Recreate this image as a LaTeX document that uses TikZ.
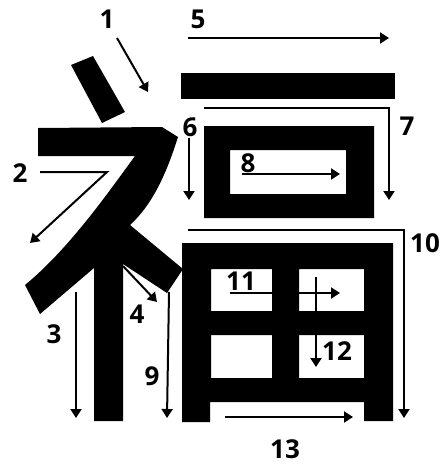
\documentclass[tikz,border=0pt]{standalone}
\usepackage{fontspec}
\setmainfont{Open Sans}
\usetikzlibrary{arrows.meta}
\begin{document}
\begin{tikzpicture}[x=1pt,y=-1pt,
  stroke/.style={fill=black,draw=none},
  arr/.style={line width=2pt,-{Triangle[length=9pt,width=11pt]}},
  plain/.style={line width=2pt},
  lab/.style={inner sep=0pt,font=\fontsize{26}{26}\selectfont\bfseries}]
\useasboundingbox (0,0) rectangle (444,467);
% strokes of the character
\fill[stroke] (71,65) -- (93,56) -- (125,112) -- (102,123) -- cycle;
\fill[stroke] (38,128) -- (162,127) -- (178,137)
  .. controls (166,175) and (152,205) .. (130,225)
  -- (183,269) -- (167,293) -- (123,264) -- (123,421) -- (94,421)
  -- (94,268) -- (40,314) -- (25,285)
  .. controls (70,248) and (110,190) .. (135,156) -- (38,156) -- cycle;
\fill[stroke] (181,73) rectangle (395,99);
\fill[stroke,even odd rule] (204,126) rectangle (374,218) (230,150) rectangle (346,194);
\fill[stroke,even odd rule] (182,243) -- (393,243) -- (393,421) -- (364,421) -- (364,402)
  -- (210,402) -- (210,422) -- (182,422) -- cycle
  (211,269) rectangle (272,311) (299,269) rectangle (364,311)
  (211,335) rectangle (272,378) (299,335) rectangle (364,378);
% arrow end points
\coordinate (a1s) at (117,38);  \coordinate (a1e) at (148,92);
\coordinate (a2s) at (40,172);  \coordinate (a2m) at (107,172); \coordinate (a2e) at (30,243);
\coordinate (a3s) at (76,292);  \coordinate (a3e) at (76,418);
\coordinate (a4s) at (123,266); \coordinate (a4e) at (157,302);
\coordinate (a5s) at (188,38);  \coordinate (a5e) at (389,38);
\coordinate (a6s) at (189,138); \coordinate (a6e) at (189,200);
\coordinate (a7s) at (204,108); \coordinate (a7m) at (389,108); \coordinate (a7e) at (389,200);
\coordinate (a8s) at (242,174); \coordinate (a8e) at (340,174);
\coordinate (a9s) at (169,292); \coordinate (a9e) at (167,418);
\coordinate (a10s) at (188,230); \coordinate (a10m) at (404,230); \coordinate (a10e) at (404,418);
\coordinate (a11s) at (230,293); \coordinate (a11e) at (340,293);
\coordinate (a12s) at (316,277); \coordinate (a12e) at (316,367);
\coordinate (a13s) at (225,417); \coordinate (a13e) at (353,417);
% arrows
\draw[arr] (a1s) -- (a1e);
\draw[arr] (a2s) -- (a2m) -- (a2e);
\draw[arr] (a3s) -- (a3e);
\draw[arr] (a4s) -- (a4e);
\draw[arr] (a5s) -- (a5e);
\draw[arr] (a6s) -- (a6e);
\draw[arr] (a7s) -- (a7m) -- (a7e);
\draw[arr] (a8s) -- (a8e);
\draw[arr] (a9s) -- (a9e);
\draw[arr] (a10s) -- (a10m) -- (a10e);
\draw[arr] (a11s) -- (a11e);
\draw[arr] (a12s) -- (a12e);
\draw[arr] (a13s) -- (a13e);
% labels
\node[lab] (l1) at (107,19) {1};
\node[lab] (l2) at (20,173) {2};
\node[lab] (l3) at (54,334) {3};
\node[lab] (l4) at (137,314) {4};
\node[lab] (l5) at (198,19) {5};
\node[lab] (l6) at (190,127) {6};
\node[lab] (l7) at (407,126) {7};
\node[lab] (l8) at (248,163) {8};
\node[lab] (l9) at (152,376) {9};
\node[lab] (l10) at (425,243) {10};
\node[lab] (l11) at (241,281) {11};
\node[lab] (l12) at (337,351) {12};
\node[lab] (l13) at (285,449) {13};
\end{tikzpicture}
\end{document}
